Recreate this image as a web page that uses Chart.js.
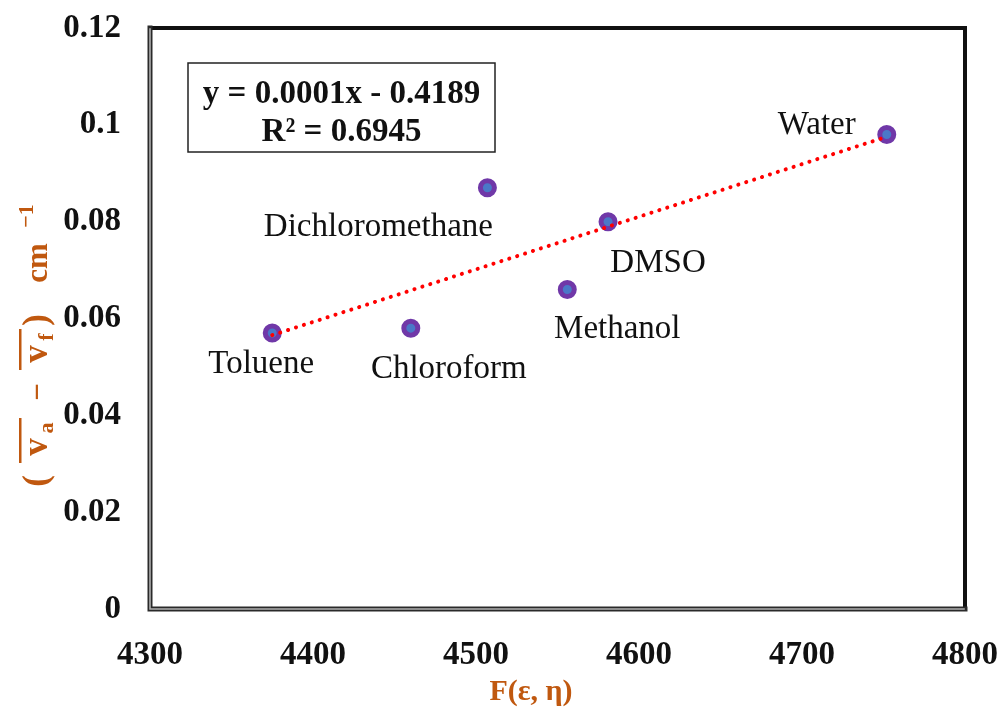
<!DOCTYPE html>
<html>
<head>
<meta charset="utf-8">
<script src="https://cdn.jsdelivr.net/npm/chart.js@4.4.1/dist/chart.umd.min.js"></script>
<style>
  html, body { margin: 0; padding: 0; background: #ffffff; }
  #wrap { width: 1001px; height: 708px; position: relative; }
</style>
</head>
<body>
<div id="wrap"><canvas id="chart"></canvas></div>
<script>
// Solvents and their polarity function F(ε, η) vs. Stokes shift
const solvents = ['Toluene', 'Chloroform', 'Dichloromethane', 'Methanol', 'DMSO', 'Water'];
const fValues = [4375, 4460, 4507, 4556, 4581, 4752];
const shiftValues = [0.057, 0.058, 0.087, 0.066, 0.080, 0.098];
const xTicks = [4300, 4400, 4500, 4600, 4700, 4800];
const yTicks = [0, 0.02, 0.04, 0.06, 0.08, 0.1, 0.12];
const equationLines = ['y = 0.0001x - 0.4189', 'R\u00B2 = 0.6945'];

// label placement relative to each marker (centre x, baseline y)
const labelOffsets = [[-11, 40], [38, 50], [-109, 48], [50, 49], [50, 50], [-70, -1]];

const TITLE_COLOR = '#C0580F';
const SERIF = '"Liberation Serif", "Times New Roman", serif';

// least-squares linear trend over the data range
function linearFit(xs, ys) {
  const n = xs.length;
  const mx = xs.reduce((a, b) => a + b, 0) / n;
  const my = ys.reduce((a, b) => a + b, 0) / n;
  let sxy = 0, sxx = 0;
  for (let i = 0; i < n; i++) {
    sxy += (xs[i] - mx) * (ys[i] - my);
    sxx += (xs[i] - mx) * (xs[i] - mx);
  }
  const slope = sxy / sxx;
  return { slope, intercept: my - slope * mx };
}
const fit = linearFit(fValues, shiftValues);
const xMin = Math.min(...fValues), xMax = Math.max(...fValues);
const trendPoints = [
  { x: xMin, y: fit.slope * xMin + fit.intercept },
  { x: xMax, y: fit.slope * xMax + fit.intercept }
];

const points = fValues.map((x, i) => ({ x, y: shiftValues[i] }));

// rotated y-axis title: each piece is centred at a screen-y position
const big = 'bold 35px ' + SERIF;
const mid = 'bold 31px ' + SERIF;
const small = 'bold 22px ' + SERIF;
const yTitlePieces = [
  { text: '(', font: big, y: 481 },
  { text: 'v', font: big, y: 447 },
  { text: 'a', font: small, y: 428, dy: 6 },
  { text: '\u2212', font: mid, y: 392 },
  { text: 'v', font: big, y: 354 },
  { text: 'f', font: small, y: 337, dy: 6 },
  { text: ')', font: big, y: 320 },
  { text: 'cm', font: mid, y: 263 },
  { text: '\u22121', font: small, y: 216, dy: -14 }
];
const yTitleBars = [[463, 418], [370, 329]];

const decorPlugin = {
  id: 'decor',
  afterDatasetsDraw(chart) {
    const ctx = chart.ctx;
    const meta = chart.getDatasetMeta(1);
    ctx.save();
    ctx.fillStyle = '#111111';
    ctx.font = '33px ' + SERIF;
    ctx.textAlign = 'center';
    ctx.textBaseline = 'alphabetic';
    meta.data.forEach((pt, i) => {
      ctx.fillText(solvents[i], pt.x + labelOffsets[i][0], pt.y + labelOffsets[i][1]);
    });
    ctx.restore();
  },
  afterDraw(chart) {
    const ctx = chart.ctx;
    const a = chart.chartArea;
    ctx.save();
    // plot frame: compound left/bottom edges, heavy top/right edges
    ctx.lineCap = 'square';
    ctx.strokeStyle = '#111111';
    ctx.lineWidth = 4;
    ctx.beginPath();
    ctx.moveTo(a.left, a.top); ctx.lineTo(a.right, a.top); ctx.lineTo(a.right, a.bottom);
    ctx.stroke();
    ctx.strokeStyle = '#2a2a2a';
    ctx.lineWidth = 5;
    ctx.beginPath();
    ctx.moveTo(a.left, a.top); ctx.lineTo(a.left, a.bottom); ctx.lineTo(a.right, a.bottom);
    ctx.stroke();
    ctx.strokeStyle = '#b0b0b0';
    ctx.lineWidth = 1.6;
    ctx.beginPath();
    ctx.moveTo(a.left, a.top + 1); ctx.lineTo(a.left, a.bottom); ctx.lineTo(a.right - 1, a.bottom);
    ctx.stroke();

    // regression equation box
    ctx.fillStyle = '#ffffff';
    ctx.fillRect(188, 63, 307, 89);
    ctx.strokeStyle = '#222222';
    ctx.lineWidth = 1.5;
    ctx.strokeRect(188, 63, 307, 89);
    ctx.fillStyle = '#111111';
    ctx.font = 'bold 33px ' + SERIF;
    ctx.textAlign = 'center';
    ctx.fillText(equationLines[0], 341.5, 103);
    ctx.fillText(equationLines[1], 341.5, 141);

    // x-axis title
    ctx.fillStyle = TITLE_COLOR;
    ctx.font = 'bold 30px ' + SERIF;
    ctx.textAlign = 'center';
    ctx.fillText('F(\u03B5, \u03B7)', 531, 700);

    // y-axis title (rotated); rotated u = -screenY
    ctx.translate(47, 0);
    ctx.rotate(-Math.PI / 2);
    ctx.textAlign = 'center';
    yTitlePieces.forEach(p => {
      ctx.font = p.font;
      ctx.fillText(p.text, -p.y, p.dy || 0);
    });
    yTitleBars.forEach(([y1, y2]) => {
      ctx.fillRect(-y1, -28, y1 - y2, 2.5);
    });
    ctx.restore();
  }
};

function zeroPadding(s) {
  s.paddingTop = 0; s.paddingBottom = 0; s.paddingLeft = 0; s.paddingRight = 0;
}

const chart = new Chart(document.getElementById('chart'), {
  type: 'scatter',
  data: {
    datasets: [
      {
        type: 'line',
        label: 'Linear fit',
        data: trendPoints,
        order: 0,
        borderColor: '#FF0000',
        borderWidth: 4,
        borderDash: [0.1, 8.2],
        borderCapStyle: 'round',
        pointRadius: 0,
        fill: false
      },
      {
        label: 'Solvents',
        data: points,
        order: 1,
        backgroundColor: '#4A78C8',
        borderColor: '#7038A8',
        borderWidth: 5,
        pointRadius: 7,
        pointHoverRadius: 7
      }
    ]
  },
  options: {
    responsive: true,
    maintainAspectRatio: false,
    animation: false,
    events: [],
    layout: { padding: { left: 0, right: 36, top: 28, bottom: 0 } },
    plugins: { legend: { display: false }, tooltip: { enabled: false } },
    scales: {
      x: {
        type: 'linear',
        min: xTicks[0],
        max: xTicks[xTicks.length - 1],
        afterBuildTicks: s => { s.ticks = xTicks.map(v => ({ value: v })); },
        afterFit: s => { s.height = 99; zeroPadding(s); },
        grid: { display: false, drawTicks: false },
        border: { display: false },
        ticks: {
          padding: 27,
          color: '#111111',
          font: { family: SERIF, size: 33, weight: 'bold' },
          maxRotation: 0,
          callback: v => String(v)
        }
      },
      y: {
        type: 'linear',
        min: yTicks[0],
        max: yTicks[yTicks.length - 1],
        afterBuildTicks: s => { s.ticks = yTicks.map(v => ({ value: v })); },
        afterFit: s => { s.width = 150; zeroPadding(s); },
        grid: { display: false, drawTicks: false },
        border: { display: false },
        ticks: {
          padding: 29,
          color: '#111111',
          font: { family: SERIF, size: 33, weight: 'bold' },
          callback: v => String(parseFloat(Number(v).toFixed(2)))
        }
      }
    }
  },
  plugins: [decorPlugin]
});
</script>
</body>
</html>
